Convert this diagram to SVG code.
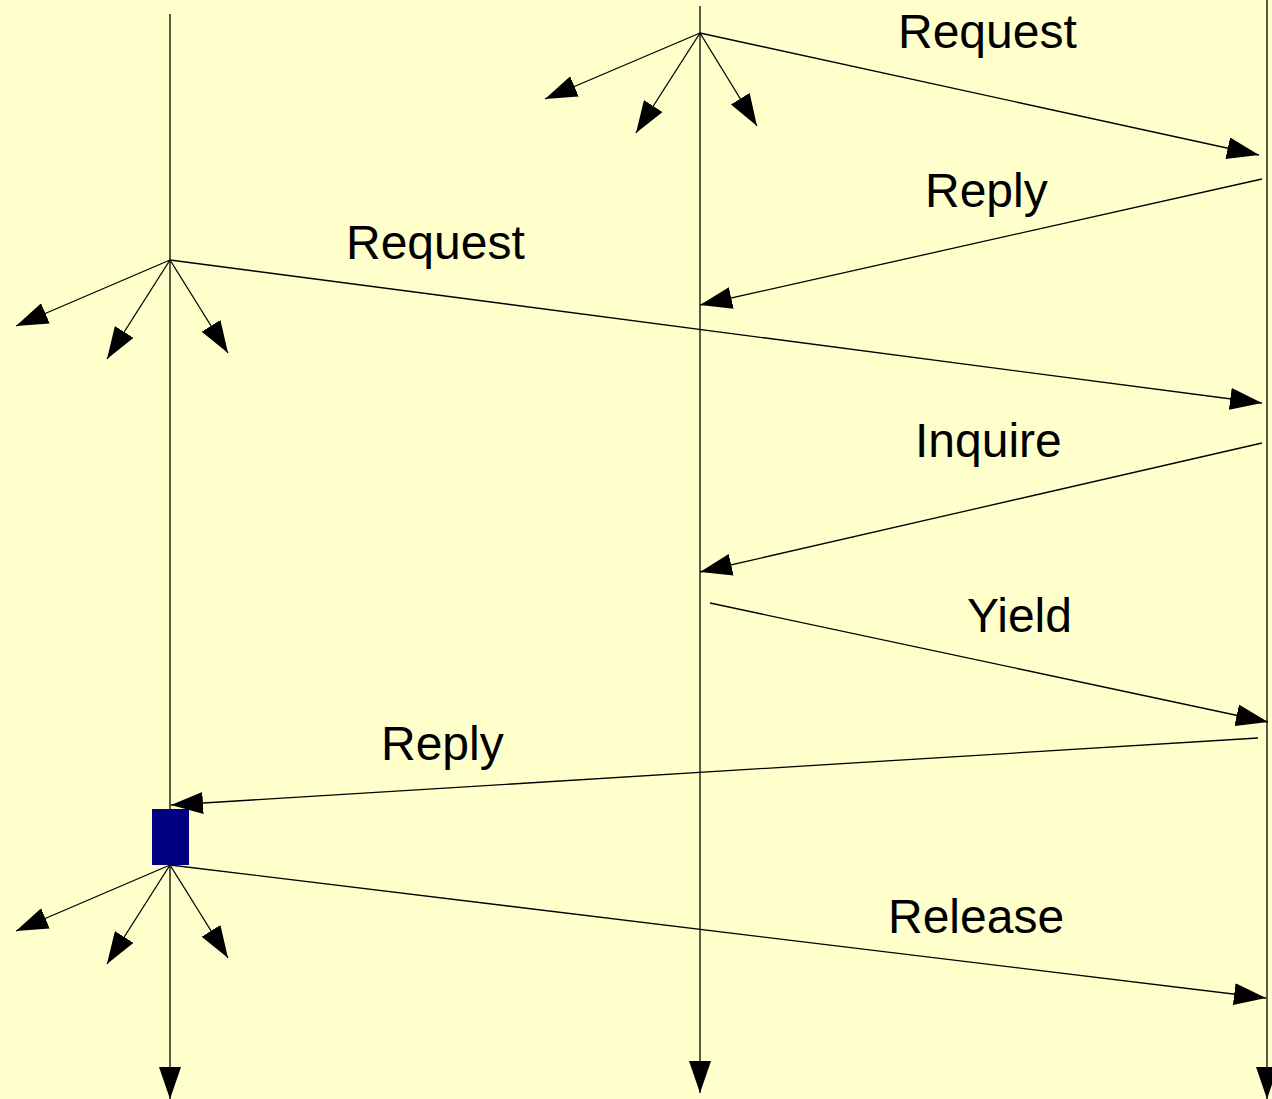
<svg xmlns="http://www.w3.org/2000/svg" width="1272" height="1099" viewBox="0 0 1272 1099">
<style>
.ln{stroke:#000;stroke-width:1.3;fill:none}
.ar{stroke:#000;stroke-width:1.3;fill:none;marker-end:url(#ah)}
.lbl{font-family:"Liberation Sans",Arial,sans-serif;font-size:48px;fill:#000}
</style>
<defs>
<marker id="ah" viewBox="0 0 32 22" refX="32" refY="11" markerWidth="32" markerHeight="22" orient="auto" markerUnits="userSpaceOnUse">
<path d="M0,0 L32,11 L0,22 z" fill="#000"/>
</marker>
</defs>
<rect width="1272" height="1099" fill="#FFFFCC"/>
<g id="lifeline-left">
<line class="ar" x1="170" y1="14" x2="170" y2="1099"/>
</g>
<g id="lifeline-middle">
<line class="ar" x1="700" y1="6" x2="700" y2="1093"/>
</g>
<g id="lifeline-right">
<line class="ar" x1="1267" y1="0" x2="1267" y2="1099"/>
</g>
<g id="activation">
<rect x="152" y="809" width="37" height="56" fill="#000080"/>
</g>
<g id="connectors">
<line class="ar" x1="700" y1="33" x2="545" y2="99"/>
<line class="ar" x1="700" y1="33" x2="636" y2="133"/>
<line class="ar" x1="700" y1="33" x2="757" y2="126"/>
<line class="ar" x1="700" y1="33" x2="1259" y2="155"/>
<line class="ar" x1="1262" y1="179" x2="700" y2="305"/>
<line class="ar" x1="170" y1="260" x2="16" y2="326"/>
<line class="ar" x1="170" y1="260" x2="107" y2="359"/>
<line class="ar" x1="170" y1="260" x2="228" y2="353"/>
<line class="ar" x1="170" y1="260" x2="1262" y2="403"/>
<line class="ar" x1="1262" y1="443" x2="700" y2="572"/>
<line class="ar" x1="710" y1="603" x2="1268" y2="722"/>
<line class="ar" x1="1258" y1="738" x2="171" y2="805"/>
<line class="ar" x1="170" y1="865" x2="16" y2="931"/>
<line class="ar" x1="170" y1="865" x2="107" y2="964"/>
<line class="ar" x1="170" y1="865" x2="228" y2="958"/>
<line class="ar" x1="170" y1="865" x2="1266" y2="998"/>
</g>
<g id="labels">
<text class="lbl" x="898" y="48">Request</text>
<text class="lbl" x="925" y="207">Reply</text>
<text class="lbl" x="346" y="259">Request</text>
<text class="lbl" x="915" y="457">Inquire</text>
<text class="lbl" x="967" y="632">Yield</text>
<text class="lbl" x="381" y="760">Reply</text>
<text class="lbl" x="888" y="933">Release</text>
</g>
</svg>
